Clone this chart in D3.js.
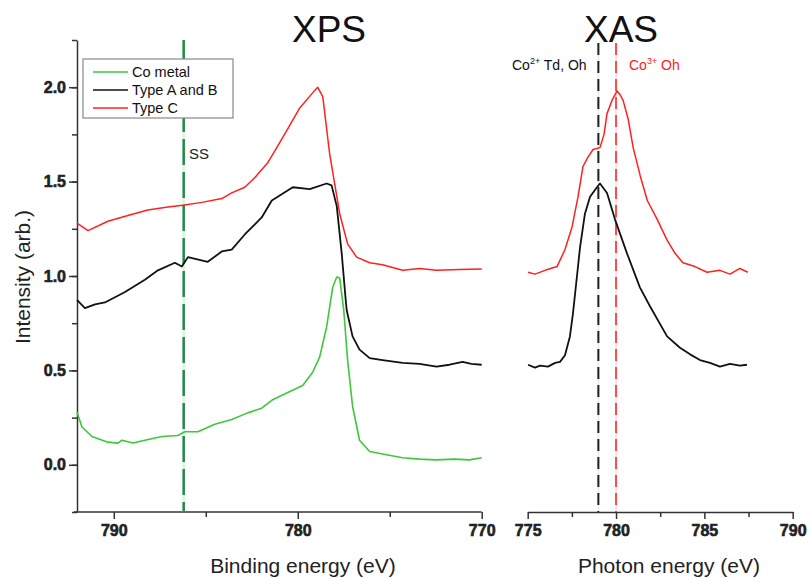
<!DOCTYPE html>
<html>
<head>
<meta charset="utf-8">
<script src="https://cdn.jsdelivr.net/npm/d3@7"></script>
<style>
  body { margin: 0; background: #fff; }
  text { font-family: "Liberation Sans", Arial, sans-serif; }
</style>
</head>
<body>
<div id="chart"></div>
<script>
// ---- data: [energy (eV), intensity] ----
var coMetal = [
  [792.0, 0.28], [791.73, 0.20], [791.19, 0.15], [790.32, 0.12], [789.77, 0.115],
  [789.56, 0.13], [788.96, 0.115], [788.31, 0.13], [787.39, 0.15], [786.52, 0.155],
  [786.14, 0.175], [785.43, 0.175], [784.51, 0.215], [783.59, 0.24], [782.72, 0.275],
  [781.96, 0.30], [781.36, 0.345], [780.6, 0.38], [779.73, 0.42], [779.19, 0.49],
  [778.81, 0.57], [778.43, 0.73], [778.1, 0.94], [777.88, 0.995], [777.72, 0.99],
  [777.5, 0.82], [777.29, 0.555], [777.02, 0.31], [776.64, 0.13], [776.09, 0.07],
  [775.17, 0.053], [774.3, 0.037], [773.38, 0.03], [772.46, 0.026], [771.48, 0.03],
  [770.67, 0.026], [770.0, 0.037]
];

var typeAB_xps = [
  [792.0, 0.873], [791.57, 0.83], [791.02, 0.85], [790.48, 0.86], [789.39, 0.915],
  [788.31, 0.98], [787.6, 1.03], [786.68, 1.07], [786.3, 1.05], [785.97, 1.10],
  [784.89, 1.075], [784.13, 1.13], [783.59, 1.14], [782.88, 1.22], [781.96, 1.31],
  [781.41, 1.40], [780.27, 1.47], [779.35, 1.46], [778.43, 1.49], [778.16, 1.48],
  [777.88, 1.37], [777.61, 1.12], [777.39, 0.87], [777.34, 0.82], [777.02, 0.68],
  [776.64, 0.61], [776.09, 0.565], [775.39, 0.555], [774.3, 0.54], [773.38, 0.535],
  [772.46, 0.52], [771.75, 0.53], [771.04, 0.545], [770.56, 0.535], [770.0, 0.53]
];

var typeC_xps = [
  [792.0, 1.28], [791.4, 1.24], [790.32, 1.29], [789.23, 1.32], [788.15, 1.35],
  [787.06, 1.365], [786.25, 1.375], [785.21, 1.39], [784.13, 1.41], [783.59, 1.44],
  [782.88, 1.47], [782.34, 1.52], [781.63, 1.60], [781.14, 1.68], [780.6, 1.77],
  [779.89, 1.89], [779.19, 1.97], [778.92, 2.0], [778.64, 1.95], [778.27, 1.65],
  [777.72, 1.33], [777.29, 1.17], [776.8, 1.10], [776.09, 1.07], [775.39, 1.06],
  [774.3, 1.03], [773.38, 1.04], [772.46, 1.03], [771.21, 1.035], [770.0, 1.037]
];

var typeAB_xas = [
  [775.02, 0.53], [775.41, 0.515], [775.7, 0.525], [776.15, 0.52], [776.55, 0.54],
  [776.83, 0.545], [777.11, 0.58], [777.39, 0.68], [777.56, 0.80], [777.79, 1.00],
  [777.96, 1.15], [778.24, 1.33], [778.53, 1.42], [778.92, 1.47], [779.09, 1.49],
  [779.49, 1.44], [779.94, 1.30], [780.62, 1.12], [781.35, 0.94], [781.92, 0.84],
  [782.89, 0.68], [783.62, 0.62], [784.19, 0.585], [784.75, 0.555], [785.32, 0.54],
  [785.88, 0.52], [786.45, 0.535], [787.01, 0.525], [787.41, 0.53]
];

var typeC_xas = [
  [775.02, 1.02], [775.41, 1.01], [775.98, 1.03], [776.66, 1.05], [777.11, 1.14],
  [777.51, 1.26], [777.85, 1.42], [778.13, 1.58], [778.41, 1.63], [778.7, 1.67],
  [779.09, 1.68], [779.32, 1.75], [779.49, 1.86], [779.77, 1.93], [780.06, 1.98],
  [780.23, 1.96], [780.4, 1.93], [780.69, 1.83], [780.97, 1.68], [781.37, 1.53],
  [781.77, 1.40], [782.33, 1.30], [782.89, 1.19], [783.34, 1.12], [783.79, 1.07],
  [784.47, 1.05], [785.15, 1.02], [785.88, 1.03], [786.45, 1.01], [787.01, 1.04],
  [787.46, 1.02]
];

var yTicks = [0, 0.5, 1.0, 1.5, 2.0];
var xpsTicks = [790, 780, 770];
var xasTicks = [775, 780, 785, 790];
var legendNames = ["Co metal", "Type A and B", "Type C"];
var ssEnergy = 786.2;
var co2Energy = 779.0;
var co3Energy = 780.0;

var colors = { green: "#3cc83c", black: "#111111", red: "#ff2020" };

var svgWidth = 811;
var svgHeight = 578;

var svg = d3.select("#chart").append("svg")
    .attr("width", svgWidth)
    .attr("height", svgHeight);

// scales
var yScale = d3.scaleLinear().domain([-0.25, 2.25]).range([512, 40]);
var xpsScale = d3.scaleLinear().domain([792, 770]).range([77, 481.7]);
var xasScale = d3.scaleLinear().domain([775, 790]).range([527.7, 792.7]);

var axisColor = "#333";

//function to style an axis group
function styleAxis(g) {
    g.select(".domain").attr("stroke", axisColor).attr("stroke-width", 1.5);
    g.selectAll(".tick line").attr("stroke", axisColor).attr("stroke-width", 1.5);
    g.selectAll(".tick text")
        .attr("fill", "#222")
        .attr("stroke", "#222")
        .attr("stroke-width", 0.6)
        .style("font", "bold 16px 'Liberation Sans', Arial, sans-serif");
}

// y axis (left panel only)
var yAxisMinor = svg.append("g")
    .attr("transform", "translate(77,0)")
    .call(d3.axisLeft(yScale).tickValues(d3.range(-0.25, 2.26, 0.25)).tickSize(5).tickFormat("").tickSizeOuter(0));
styleAxis(yAxisMinor);

var yAxis = svg.append("g")
    .attr("transform", "translate(77,0)")
    .call(d3.axisLeft(yScale).tickValues(yTicks).tickSize(8).tickPadding(3).tickFormat(d3.format(".1f")).tickSizeOuter(0));
styleAxis(yAxis);
yAxis.select(".domain").remove();

// XPS bottom axis
var xpsMinor = svg.append("g")
    .attr("transform", "translate(0,512)")
    .call(d3.axisBottom(xpsScale).tickValues([785, 775]).tickSize(5).tickFormat("").tickSizeOuter(0));
styleAxis(xpsMinor);
xpsMinor.select(".domain").attr("d", "M74,0H481.7");

var xpsAxis = svg.append("g")
    .attr("transform", "translate(0,512)")
    .call(d3.axisBottom(xpsScale).tickValues(xpsTicks).tickSize(7).tickPadding(6).tickSizeOuter(0));
styleAxis(xpsAxis);
xpsAxis.select(".domain").remove();

// XAS bottom axis
var xasMinor = svg.append("g")
    .attr("transform", "translate(0,512)")
    .call(d3.axisBottom(xasScale).tickValues([777.5, 782.5, 787.5]).tickSize(5).tickFormat("").tickSizeOuter(0));
styleAxis(xasMinor);

var xasAxis = svg.append("g")
    .attr("transform", "translate(0,512)")
    .call(d3.axisBottom(xasScale).tickValues(xasTicks).tickSize(7).tickPadding(6).tickSizeOuter(0));
styleAxis(xasAxis);
xasAxis.select(".domain").remove();

// vertical reference lines
function vline(x, y0, color, under, dash, width) {
    svg.append("line")
        .attr("x1", x).attr("x2", x).attr("y1", y0).attr("y2", 512)
        .attr("stroke", under).attr("stroke-width", width);
    svg.append("line")
        .attr("x1", x).attr("x2", x).attr("y1", y0).attr("y2", 512)
        .attr("stroke", color).attr("stroke-width", width)
        .attr("stroke-dasharray", dash);
}
vline(xpsScale(ssEnergy), 40, "#238a4a", "#dff2df", "26,7", 2.5);
vline(xasScale(co2Energy), 43, "#222", "#e6f3e0", "12,6", 2);
vline(xasScale(co3Energy), 43, "#ff4a4a", "#ffe0e0", "12,6", 2);

// curves
var xpsLine = d3.line().x(d => xpsScale(d[0])).y(d => yScale(d[1]));
var xasLine = d3.line().x(d => xasScale(d[0])).y(d => yScale(d[1]));

function drawCurve(data, lineGen, color, w) {
    svg.append("path")
        .datum(data)
        .attr("fill", "none")
        .attr("stroke", color)
        .attr("stroke-width", w)
        .attr("stroke-linejoin", "round")
        .attr("d", lineGen);
}
drawCurve(coMetal, xpsLine, colors.green, 1.6);
drawCurve(typeC_xps, xpsLine, colors.red, 1.5);
drawCurve(typeAB_xps, xpsLine, colors.black, 1.8);
drawCurve(typeC_xas, xasLine, colors.red, 1.5);
drawCurve(typeAB_xas, xasLine, colors.black, 1.8);

// legend
var legend = svg.append("g").attr("transform", "translate(83,59)");
legend.append("rect")
    .attr("width", 150).attr("height", 59)
    .attr("fill", "#fff").attr("stroke", "#888").attr("stroke-width", 1.2);
var legendColors = [colors.green, colors.black, colors.red];
legendNames.forEach(function(name, i) {
    var y = 13 + i * 18;
    legend.append("line")
        .attr("x1", 10).attr("x2", 45).attr("y1", y).attr("y2", y)
        .attr("stroke", legendColors[i]).attr("stroke-width", 1.6);
    legend.append("text")
        .attr("x", 49).attr("y", y + 5)
        .attr("font-size", "14.5px").attr("fill", "#111")
        .text(name);
});

// annotations
svg.append("text").attr("x", 189).attr("y", 159).attr("font-size", "15px").attr("fill", "#222").text("SS");

var co2 = svg.append("text").attr("x", 512).attr("y", 70).attr("font-size", "14px").attr("fill", "#111");
co2.append("tspan").text("Co");
co2.append("tspan").attr("dy", -6).attr("font-size", "9px").text("2+");
co2.append("tspan").attr("dy", 6).text(" Td, Oh");

var co3 = svg.append("text").attr("x", 629).attr("y", 70).attr("font-size", "14px").attr("fill", "#ff2020");
co3.append("tspan").text("Co");
co3.append("tspan").attr("dy", -6).attr("font-size", "9px").text("3+");
co3.append("tspan").attr("dy", 6).text(" Oh");

// titles
svg.append("text").attr("x", 329).attr("y", 42).attr("text-anchor", "middle")
    .attr("font-size", "37px").attr("fill", "#111").text("XPS");
svg.append("text").attr("x", 621).attr("y", 42).attr("text-anchor", "middle")
    .attr("font-size", "37px").attr("fill", "#111").text("XAS");

// axis labels
svg.append("text").attr("x", 303).attr("y", 573).attr("text-anchor", "middle")
    .attr("font-size", "21px").attr("fill", "#222").text("Binding energy (eV)");
svg.append("text").attr("x", 669).attr("y", 573).attr("text-anchor", "middle")
    .attr("font-size", "21px").attr("fill", "#222").text("Photon energy (eV)");
svg.append("text")
    .attr("transform", "translate(30,277) rotate(-90)")
    .attr("text-anchor", "middle")
    .attr("font-size", "21px").attr("fill", "#222")
    .text("Intensity (arb.)");
</script>
</body>
</html>
